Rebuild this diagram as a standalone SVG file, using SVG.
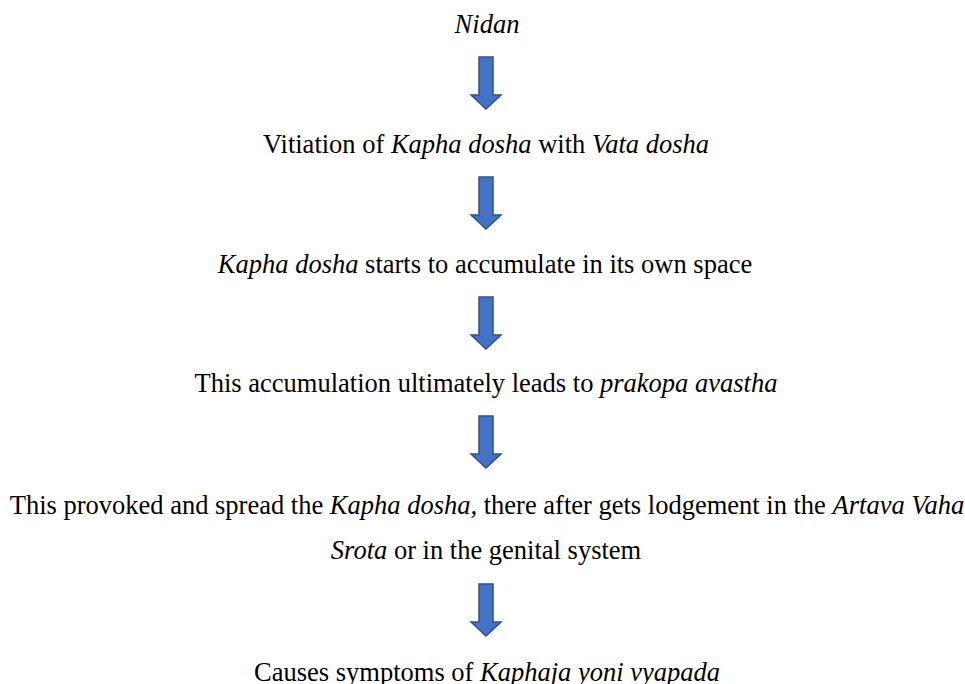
<svg xmlns="http://www.w3.org/2000/svg" width="965" height="684" viewBox="0 0 965 684">
<defs>
<style>
text{font-family:"Liberation Serif","Times New Roman",serif;font-size:26.5px;fill:#000;text-anchor:middle}
.i{font-style:italic}
.arr{fill:#4472C4;stroke:#2F528F;stroke-width:1.5}
</style>
<path id="a" d="M-7,0 H7 V38 H15 L0,52 L-15,38 H-7 Z"/>
</defs>
<rect width="965" height="684" fill="#fff"/>
<g id="connectors">
<use href="#a" class="arr" x="486" y="57"/>
<use href="#a" class="arr" x="486" y="177"/>
<use href="#a" class="arr" x="486" y="297"/>
<use href="#a" class="arr" x="486" y="416"/>
<use href="#a" class="arr" x="486" y="584"/>
</g>
<g id="n1"><text x="487" y="33" class="i">Nidan</text></g>
<g id="n2"><text x="486" y="153">Vitiation of <tspan class="i">Kapha dosha</tspan> with <tspan class="i">Vata dosha</tspan></text></g>
<g id="n3"><text x="485" y="273"><tspan class="i">Kapha dosha</tspan> starts to accumulate in its own space</text></g>
<g id="n4"><text x="486" y="392">This accumulation ultimately leads to <tspan class="i">prakopa avastha</tspan></text></g>
<g id="n5"><text x="487" y="514">This provoked and spread the <tspan class="i">Kapha dosha,</tspan> there after gets lodgement in the <tspan class="i">Artava Vaha</tspan></text>
<text x="486" y="559"><tspan class="i">Srota</tspan> or in the genital system</text></g>
<g id="n6"><text x="487" y="681">Causes symptoms of <tspan class="i">Kaphaja yoni vyapada</tspan></text></g>
</svg>
